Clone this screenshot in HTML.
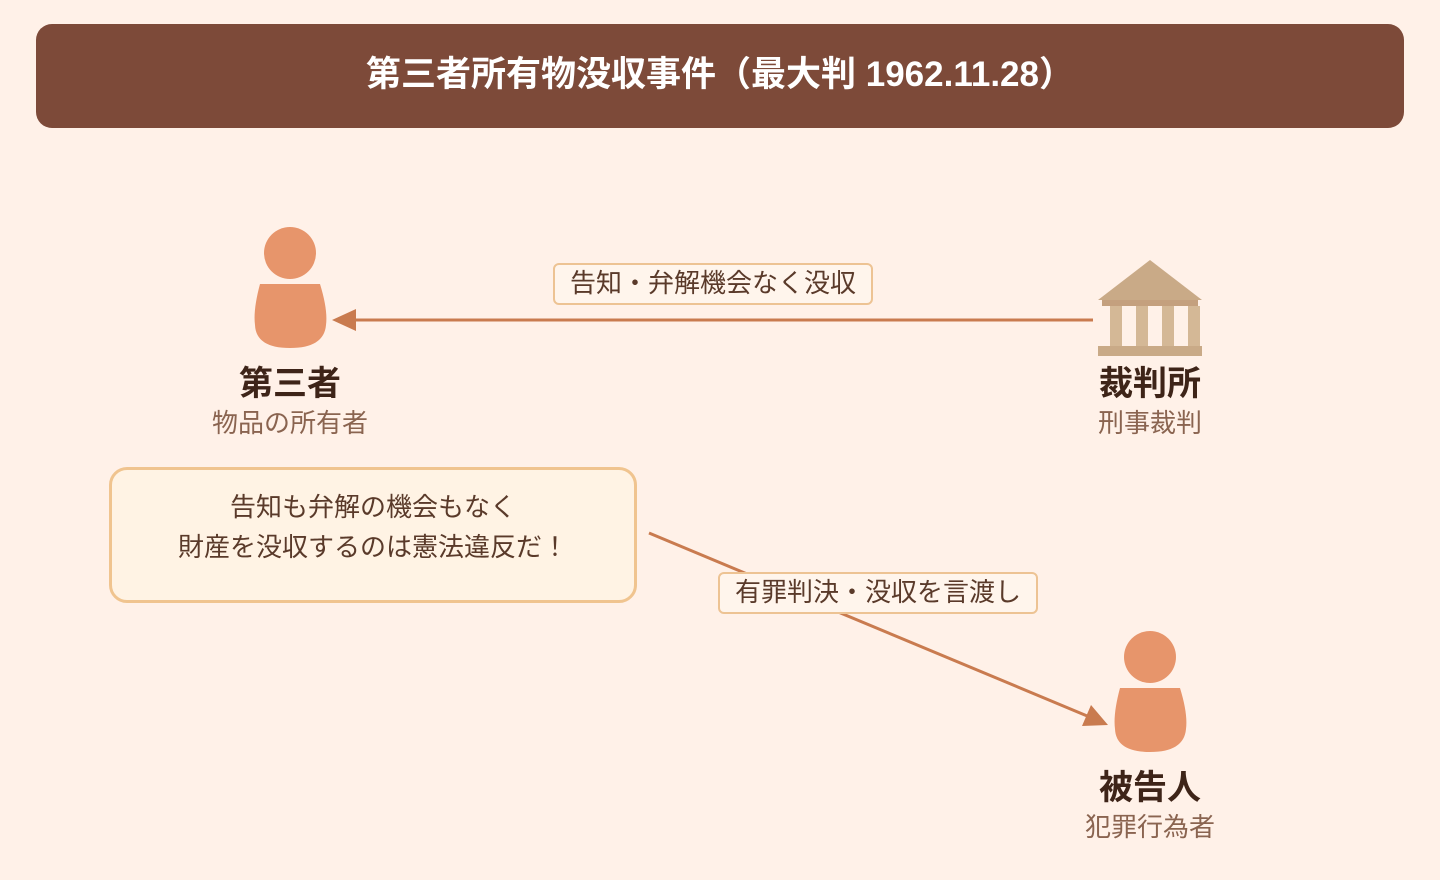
<!DOCTYPE html>
<html><head><meta charset="utf-8"><style>
body{margin:0;width:1440px;height:880px;background:#fff1e8;font-family:"Liberation Sans","Noto Sans CJK JP",sans-serif;position:relative;overflow:hidden}
.t{position:absolute;white-space:nowrap;text-align:center}
</style></head><body>
<div style="position:absolute;left:36px;top:24px;width:1368px;height:104px;background:#7d4a39;border-radius:16px"></div>
<div class="t" style="left:36px;width:1368px;top:51px;font-size:35px;font-weight:bold;color:#fff;line-height:48px">第三者所有物没収事件（最大判 1962.11.28）</div>
<svg width="1440" height="880" style="position:absolute;left:0;top:0">
<line x1="1093" y1="320" x2="350" y2="320" stroke="#c97b4f" stroke-width="3"/>
<polygon points="332,320 356,309 356,331" fill="#c97b4f"/>
<line x1="649" y1="533" x2="1092" y2="718" stroke="#c97b4f" stroke-width="3"/>
<polygon points="1108,725 1082,726 1091,705" fill="#c97b4f"/>
<circle cx="290" cy="253" r="26" fill="#e7956b"/>
<path d="M260 284 H320 Q328 310 326 325 Q324 348 290 348 Q256 348 255 325 Q253 310 260 284Z" fill="#e7956b"/>
<circle cx="1150" cy="657" r="26" fill="#e7956b"/>
<path d="M1120 688 H1180 Q1188 714 1186 729 Q1184 752 1150 752 Q1116 752 1115 729 Q1113 714 1120 688Z" fill="#e7956b"/>
<polygon points="1150,260 1202,300 1098,300" fill="#c9aa87"/>
<rect x="1102" y="300" width="96" height="6" fill="#c4a07e"/>
<g fill="#d4b896"><rect x="1110" y="306" width="12" height="40"/><rect x="1136" y="306" width="12" height="40"/><rect x="1162" y="306" width="12" height="40"/><rect x="1188" y="306" width="12" height="40"/></g>
<rect x="1098" y="346" width="104" height="10" fill="#c9aa87"/>
</svg>
<div style="position:absolute;left:553px;top:263px;width:316px;height:38px;border:2px solid #edc393;border-radius:6px;background:#fff5ec"></div>
<div class="t" style="left:553px;width:320px;top:265px;font-size:26px;line-height:36px;color:#5a3a2a">告知・弁解機会なく没収</div>
<div style="position:absolute;left:718px;top:572px;width:316px;height:38px;border:2px solid #edc393;border-radius:6px;background:#fff5ec"></div>
<div class="t" style="left:718px;width:320px;top:574px;font-size:26px;line-height:36px;color:#5a3a2a">有罪判決・没収を言渡し</div>
<div style="position:absolute;left:109px;top:467px;width:522px;height:130px;border:3px solid #f0c48f;border-radius:18px;background:#fff3e4"></div>
<div class="t" style="left:109px;width:528px;top:487px;font-size:26px;line-height:40px;color:#5a3a2a">告知も弁解の機会もなく<br>財産を没収するのは憲法違反だ！</div>
<div class="t" style="left:190px;width:200px;top:363px;font-size:34px;font-weight:bold;color:#3e2418;line-height:42px">第三者</div>
<div class="t" style="left:190px;width:200px;top:406px;font-size:26px;color:#8a6450;line-height:34px">物品の所有者</div>
<div class="t" style="left:1050px;width:200px;top:363px;font-size:34px;font-weight:bold;color:#3e2418;line-height:42px">裁判所</div>
<div class="t" style="left:1050px;width:200px;top:406px;font-size:26px;color:#8a6450;line-height:34px">刑事裁判</div>
<div class="t" style="left:1050px;width:200px;top:767px;font-size:34px;font-weight:bold;color:#3e2418;line-height:42px">被告人</div>
<div class="t" style="left:1050px;width:200px;top:810px;font-size:26px;color:#8a6450;line-height:34px">犯罪行為者</div>
</body></html>
